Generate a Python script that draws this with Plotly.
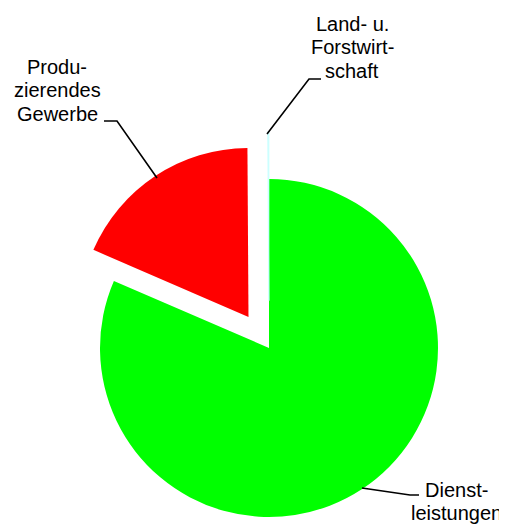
import plotly.graph_objects as go

# Anteile der Wirtschaftsbereiche (in %)
sectors = ["Dienstleistungen", "Produzierendes Gewerbe", "Land- u. Forstwirtschaft"]
shares = [81.5, 18.4, 0.1]
label_lines = [["Dienst-", "leistungen"],
               ["Produ-", "zierendes", "Gewerbe"],
               ["Land- u.", "Forstwirt-", "schaft"]]

colors = ["#00ff00", "#ff0000", "#ccffff"]
pulls = [0, 0.22, 0.28]

OFF = 8                  # page body margin
W, H = 530, 570          # figure larger than the window; right/bottom are cropped
CX, CY, R = 269 - OFF, 348 - OFF, 169  # pie centre / radius in pixels


def paper(x, y):
    # x, y given in window pixels
    return (x - OFF) / W, (H - (y - OFF)) / H


ext = R * (1 + max(pulls))
x0, x1 = (CX - ext) / W, (CX + ext) / W
y0, y1 = (H - (CY + ext)) / H, (H - (CY - ext)) / H

fig = go.Figure(go.Pie(
    labels=sectors,
    values=shares,
    sort=False,
    direction="clockwise",
    rotation=0,
    pull=pulls,
    marker=dict(colors=colors, line=dict(color=colors, width=[0, 0, 1])),
    textinfo="none",
    hoverinfo="label+percent",
    domain=dict(x=[x0, x1], y=[y0, y1]),
    showlegend=False,
))

# label text: centre x, first baseline, leader line points (window pixels)
label_pos = [(456, 497, [(362, 488), (410, 495), (419, 495)]),
             (57, 74, [(104, 121), (117, 121), (157, 178)]),
             (352, 31, [(321, 79), (309, 79), (267, 134)])]

annotations = []
shapes = []
for lines, (tx, base, leader) in zip(label_lines, label_pos):
    for i, line in enumerate(lines):
        ax_, ay_ = paper(tx, base + i * 23.4 - 7)
        annotations.append(dict(x=ax_, y=ay_, xref="paper", yref="paper", text=line,
                                showarrow=False, xanchor="center", yanchor="middle",
                                font=dict(family="Liberation Sans, Arial", size=20, color="#000000")))
    pts = [paper(x, y) for x, y in leader]
    path = "M " + " L ".join(f"{px_},{py_}" for px_, py_ in pts)
    shapes.append(dict(type="path", xref="paper", yref="paper", path=path,
                       line=dict(color="#000000", width=1.6)))

fig.update_layout(
    width=W, height=H,
    margin=dict(l=0, r=0, t=0, b=0),
    paper_bgcolor="white",
    annotations=annotations,
    shapes=shapes,
)

fig.write_html("out.html")
